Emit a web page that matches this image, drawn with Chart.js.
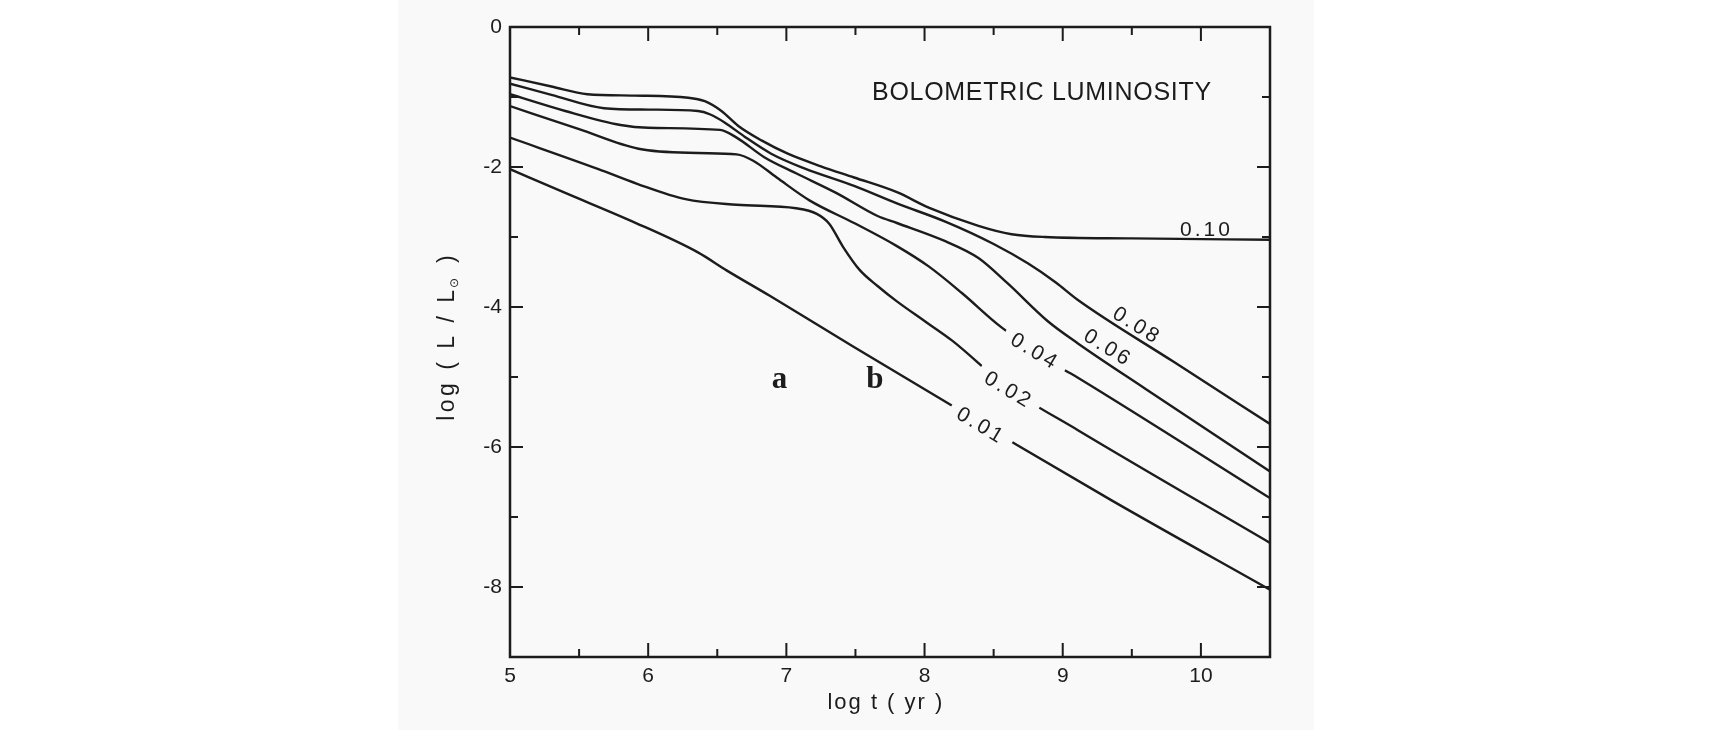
<!DOCTYPE html>
<html>
<head>
<meta charset="utf-8">
<script src="https://cdn.jsdelivr.net/npm/chart.js@4.4.1/dist/chart.umd.min.js"></script>
<style>
  html, body { margin: 0; padding: 0; background: #fff; }
  canvas { display: block; }
</style>
</head>
<body>
<canvas id="chart" width="1710" height="730"></canvas>
<script>
// log t (yr) / log(L/Lsun) pairs for each mass curve
const t010 = [5.0, 5.3, 5.56, 5.9, 6.29, 6.41, 6.53, 6.65, 6.82, 7.01, 7.25, 7.49, 7.8, 8.03, 8.39, 8.63, 8.87, 9.5, 10.5];
const l010 = [-0.72, -0.85, -0.96, -0.98, -1.01, -1.06, -1.20, -1.41, -1.62, -1.81, -1.99, -2.15, -2.36, -2.58, -2.84, -2.96, -3.0, -3.02, -3.04];

const t008 = [5.0, 5.3, 5.68, 6.0, 6.36, 6.45, 6.55, 6.70, 6.89, 7.13, 7.49, 7.80, 8.15, 8.5, 8.75, 8.95, 9.11, 9.8, 10.5];
const l008 = [-0.81, -0.97, -1.16, -1.18, -1.20, -1.25, -1.36, -1.57, -1.81, -2.02, -2.27, -2.52, -2.78, -3.10, -3.38, -3.65, -3.90, -4.78, -5.67];

const t006 = [5.0, 5.4, 5.8, 6.0, 6.52, 6.64, 6.84, 7.07, 7.36, 7.66, 7.8, 8.15, 8.39, 8.6, 8.89, 9.11, 9.6, 10.5];
const l006 = [-0.96, -1.20, -1.40, -1.44, -1.47, -1.58, -1.86, -2.09, -2.37, -2.70, -2.80, -3.06, -3.30, -3.66, -4.20, -4.52, -5.17, -6.35];

const t004 = [5.0, 5.5, 5.93, 6.36, 6.64, 6.76, 6.93, 7.17, 7.49, 7.80, 8.03, 8.27, 8.55, 8.99, 9.11, 10.5];
const l004 = [-1.13, -1.46, -1.74, -1.80, -1.82, -1.91, -2.15, -2.48, -2.80, -3.13, -3.42, -3.80, -4.28, -4.87, -5.01, -6.73];

const t002 = [5.0, 5.64, 5.92, 6.27, 6.64, 7.07, 7.22, 7.31, 7.41, 7.53, 7.66, 7.8, 8.0, 8.2, 8.59, 9.11, 10.5];
const l002 = [-1.58, -2.03, -2.24, -2.46, -2.54, -2.59, -2.67, -2.81, -3.14, -3.47, -3.70, -3.92, -4.20, -4.48, -5.13, -5.76, -7.37];

const t001 = [5.0, 5.4, 5.9, 6.36, 6.57, 6.88, 7.48, 8.20, 8.66, 9.36, 10.5];
const l001 = [-2.03, -2.37, -2.79, -3.22, -3.48, -3.84, -4.56, -5.41, -5.96, -6.77, -8.04];

const masses = ["0.10", "0.08", "0.06", "0.04", "0.02", "0.01"];
const xTicks = [5, 6, 7, 8, 9, 10];
const yTicks = [0, -2, -4, -6, -8];

const FONT = '"Liberation Sans", Arial, sans-serif';
const INK = "#1c1c1c";
const PAPER = "#f9f9f9";

// where the mass labels sit along the curves (data coords)
const notes = [
  { text: "0.10", x: 10.04, y: -2.89, rot: 0, gap: false },
  { text: "0.08", x: 9.54, y: -4.26, rot: 32, gap: false },
  { text: "0.06", x: 9.33, y: -4.58, rot: 32, gap: false },
  { text: "0.04", x: 8.80, y: -4.63, rot: 31, gap: true },
  { text: "0.02", x: 8.61, y: -5.18, rot: 31, gap: true },
  { text: "0.01", x: 8.41, y: -5.69, rot: 31, gap: true },
];

const pairs = [[t010, l010], [t008, l008], [t006, l006], [t004, l004], [t002, l002], [t001, l001]];

const datasets = pairs.map(([t, l], i) => ({
  label: masses[i],
  data: t.map((x, k) => ({ x, y: l[k] })),
}));

const frame = {
  id: "frame",
  beforeDraw(chart) {
    const ctx = chart.ctx;
    ctx.save();
    ctx.fillStyle = "#ffffff";
    ctx.fillRect(0, 0, chart.width, chart.height);
    ctx.fillStyle = PAPER;
    ctx.fillRect(398, 0, 916, chart.height);
    ctx.restore();
  },
  afterDatasetsDraw(chart) {
    const ctx = chart.ctx;
    const { left, right, top, bottom } = chart.chartArea;
    const xs = chart.scales.x, ys = chart.scales.y;

    ctx.save();
    ctx.strokeStyle = INK;
    ctx.fillStyle = INK;

    // box
    ctx.lineWidth = 2.5;
    ctx.strokeRect(left, top, right - left, bottom - top);

    // inward ticks
    ctx.lineWidth = 2;
    ctx.beginPath();
    for (let v = 5.5; v < 10.5; v += 0.5) {
      const px = xs.getPixelForValue(v);
      const len = Number.isInteger(v) ? 14 : 8;
      ctx.moveTo(px, bottom); ctx.lineTo(px, bottom - len);
      ctx.moveTo(px, top); ctx.lineTo(px, top + len);
    }
    for (let v = -8; v < 0; v += 1) {
      const py = ys.getPixelForValue(v);
      const len = v % 2 === 0 ? 13 : 8;
      ctx.moveTo(left, py); ctx.lineTo(left + len, py);
      ctx.moveTo(right, py); ctx.lineTo(right - len, py);
    }
    ctx.stroke();

    // mass labels
    ctx.font = "21px " + FONT;
    ctx.letterSpacing = "3px";
    ctx.textAlign = "center";
    ctx.textBaseline = "middle";
    notes.forEach(n => {
      const px = xs.getPixelForValue(n.x), py = ys.getPixelForValue(n.y);
      ctx.save();
      ctx.translate(px, py);
      ctx.rotate(n.rot * Math.PI / 180);
      const w = ctx.measureText(n.text).width;
      if (n.gap) {
        ctx.fillStyle = PAPER;
        ctx.fillRect(-w / 2 - 9, -12, w + 18, 24);
      }
      ctx.fillStyle = INK;
      ctx.fillText(n.text, 0, 1);
      ctx.restore();
    });

    // title inside the plot
    ctx.textAlign = "left";
    ctx.textBaseline = "alphabetic";
    ctx.font = "25px " + FONT;
    ctx.letterSpacing = "0.7px";
    ctx.fillText("BOLOMETRIC LUMINOSITY", xs.getPixelForValue(7.62), ys.getPixelForValue(-1.04));

    // a / b marks
    ctx.letterSpacing = "0px";
    ctx.textAlign = "center";
    ctx.font = "bold 31px 'Liberation Serif', 'Times New Roman', serif";
    ctx.fillText("a", xs.getPixelForValue(6.95), ys.getPixelForValue(-5.16));
    ctx.fillText("b", xs.getPixelForValue(7.64), ys.getPixelForValue(-5.15));

    // x title
    ctx.font = "22px " + FONT;
    ctx.letterSpacing = "2px";
    ctx.fillText("log t ( yr )", xs.getPixelForValue(7.72), bottom + 52);

    // y title with subscript sun
    ctx.save();
    ctx.translate(left - 62, ys.getPixelForValue(-4.42));
    ctx.rotate(-Math.PI / 2);
    ctx.textAlign = "left";
    ctx.textBaseline = "middle";
    ctx.letterSpacing = "3.5px";
    const a = "log ( L / L", s = "\u2299", b = " )";
    ctx.font = "23px " + FONT;
    const wa = ctx.measureText(a).width, wb = ctx.measureText(b).width;
    ctx.font = "12px " + FONT;
    const wsub = ctx.measureText(s).width;
    let x0 = -(wa + wsub + wb) / 2;
    ctx.font = "23px " + FONT;
    ctx.fillText(a, x0, 0);
    ctx.font = "12px " + FONT;
    ctx.fillText(s, x0 + wa - 2, 7);
    ctx.font = "23px " + FONT;
    ctx.fillText(b, x0 + wa + wsub, 0);
    ctx.restore();

    ctx.restore();
  },
};

new Chart(document.getElementById("chart").getContext("2d"), {
  type: "line",
  data: { datasets },
  options: {
    responsive: false,
    animation: false,
    devicePixelRatio: 1,
    layout: { padding: { left: 0, right: 440, top: 27, bottom: 0 } },
    plugins: { legend: { display: false }, tooltip: { enabled: false } },
    elements: {
      point: { radius: 0 },
      line: { borderWidth: 2.4, borderColor: INK, cubicInterpolationMode: "monotone", fill: false },
    },
    scales: {
      x: {
        type: "linear",
        min: 5,
        max: 10.5,
        grid: { display: false, drawTicks: false },
        border: { display: false },
        afterBuildTicks: (s) => { s.ticks = xTicks.map(v => ({ value: v })); },
        ticks: { autoSkip: false, maxRotation: 0, padding: 7, color: INK, font: { family: FONT, size: 21 } },
        afterFit: (s) => { s.height = 73; },
      },
      y: {
        type: "linear",
        min: -9,
        max: 0,
        grid: { display: false, drawTicks: false },
        border: { display: false },
        afterBuildTicks: (s) => { s.ticks = yTicks.map(v => ({ value: v })); },
        ticks: { autoSkip: false, padding: 8, color: INK, font: { family: FONT, size: 21 } },
        afterFit: (s) => { s.width = 510; },
      },
    },
  },
  plugins: [frame],
});
</script>
</body>
</html>
